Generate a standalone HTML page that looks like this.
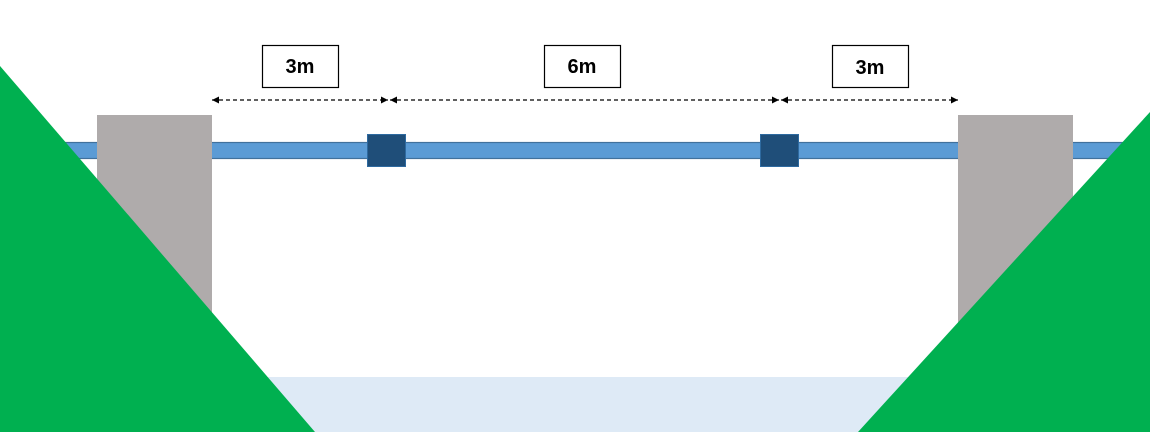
<!DOCTYPE html>
<html><head><meta charset="utf-8"><style>html,body{margin:0;padding:0;background:#fff}svg{display:block}</style></head>
<body>
<svg width="1150" height="432" viewBox="0 0 1150 432" xmlns="http://www.w3.org/2000/svg">
<defs>
<marker id="a" viewBox="0 0 10 10" refX="10" refY="5" markerWidth="7" markerHeight="7" orient="auto-start-reverse" markerUnits="userSpaceOnUse"><path d="M0,0L10,5L0,10z" fill="#000"/></marker>
</defs>
<rect x="0" y="377" width="1150" height="55" fill="#deeaf6"/>
<rect x="0" y="142.5" width="1150" height="16" fill="#5b9bd5" stroke="#41719c" stroke-width="1.2"/>
<rect x="367.5" y="134.5" width="38" height="32" fill="#1f4e79" stroke="#2e6aa0" stroke-width="1"/>
<rect x="760.5" y="134.5" width="38" height="32" fill="#1f4e79" stroke="#2e6aa0" stroke-width="1"/>
<rect x="97" y="115" width="115" height="317" fill="#afabab"/>
<rect x="958" y="115" width="115" height="317" fill="#afabab"/>
<polygon points="0,66 315,432 0,432" fill="#00b050"/>
<polygon points="1150,112 858,432 1150,432" fill="#00b050"/>
<g stroke="#000" stroke-width="1.2" stroke-dasharray="4,3" fill="none">
<line x1="212" y1="100" x2="388" y2="100" marker-start="url(#a)" marker-end="url(#a)"/>
<line x1="390" y1="100" x2="779" y2="100" marker-start="url(#a)" marker-end="url(#a)"/>
<line x1="781" y1="100" x2="958" y2="100" marker-start="url(#a)" marker-end="url(#a)"/>
</g>
<g fill="#fff" stroke="#000" stroke-width="1.2">
<rect x="262.5" y="45.5" width="76" height="42"/>
<rect x="544.5" y="45.5" width="76" height="42"/>
<rect x="832.5" y="45.5" width="76" height="42"/>
</g>
<g font-family="'Liberation Sans', sans-serif" font-weight="bold" font-size="20" text-anchor="middle" fill="#000">
<text x="300" y="73">3m</text>
<text x="582" y="73">6m</text>
<text x="870" y="74">3m</text>
</g>
</svg>
</body></html>
